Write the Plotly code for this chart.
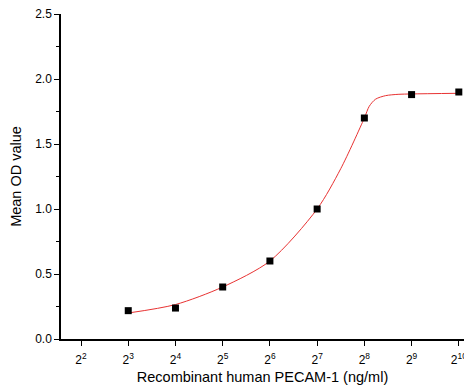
import plotly.graph_objects as go
import math

# measured data
conc = [8, 16, 32, 64, 128, 256, 512, 1024]
mean_od = [0.218, 0.238, 0.40, 0.60, 1.00, 1.70, 1.88, 1.90]

# fitted curve
fit_x = [8, 16, 32, 64, 128, 181, 256, 275, 302, 350, 420, 512, 1024]
fit_y = [0.20, 0.265, 0.40, 0.60, 1.00, 1.31, 1.70, 1.79, 1.845, 1.872, 1.882, 1.885, 1.89]

tick_vals = [4, 8, 16, 32, 64, 128, 256, 512, 1024]
tick_text = ["2<sup>%d</sup>" % int(round(math.log2(v))) for v in tick_vals]

fig = go.Figure()
fig.add_trace(go.Scatter(x=fit_x, y=fit_y, mode="lines",
                         line=dict(color="rgb(232,50,50)", width=1, shape="spline", smoothing=0.8),
                         showlegend=False, hoverinfo="skip"))
fig.add_trace(go.Scatter(x=conc, y=mean_od, mode="markers",
                         marker=dict(symbol="square", size=7, color="black"),
                         showlegend=False, cliponaxis=False))

font = dict(family="Liberation Sans, Arial, sans-serif", color="black")
fig.update_layout(
    width=464, height=389,
    margin=dict(l=61, r=0, t=14, b=50, autoexpand=False),
    plot_bgcolor="white", paper_bgcolor="white",
    font=dict(size=12, **font),
)
fig.update_xaxes(
    type="log", range=[1.576 * math.log10(2), 10.11 * math.log10(2)],
    tickvals=tick_vals, ticktext=tick_text, automargin=False, ticklabeloverflow="allow",
    ticks="outside", ticklen=5, tickwidth=1, tickcolor="black", ticklabelstandoff=4,
    showline=True, linecolor="black", linewidth=1.5, showgrid=False, zeroline=False,
    tickfont=dict(size=12, **font),
    title=dict(text="Recombinant human PECAM-1 (ng/ml)", font=dict(size=14.5, **font), standoff=6),
)
fig.update_yaxes(
    range=[0, 2.5], tickvals=[0, 0.5, 1.0, 1.5, 2.0, 2.5], tickformat=".1f", automargin=False,
    ticks="outside", ticklen=5, tickwidth=1, tickcolor="black",
    minor=dict(dtick=0.25, ticks="outside", ticklen=3, tickcolor="black", tickwidth=1, showgrid=False),
    showline=True, linecolor="black", linewidth=1.5, showgrid=False, zeroline=False,
    tickfont=dict(size=12, **font),
    title=dict(text="Mean OD value", font=dict(size=14.5, **font), standoff=10),
)

fig.write_html("out.html", config={"displayModeBar": False},
               post_script="document.body.style.margin='0';document.body.style.overflow='hidden';")
